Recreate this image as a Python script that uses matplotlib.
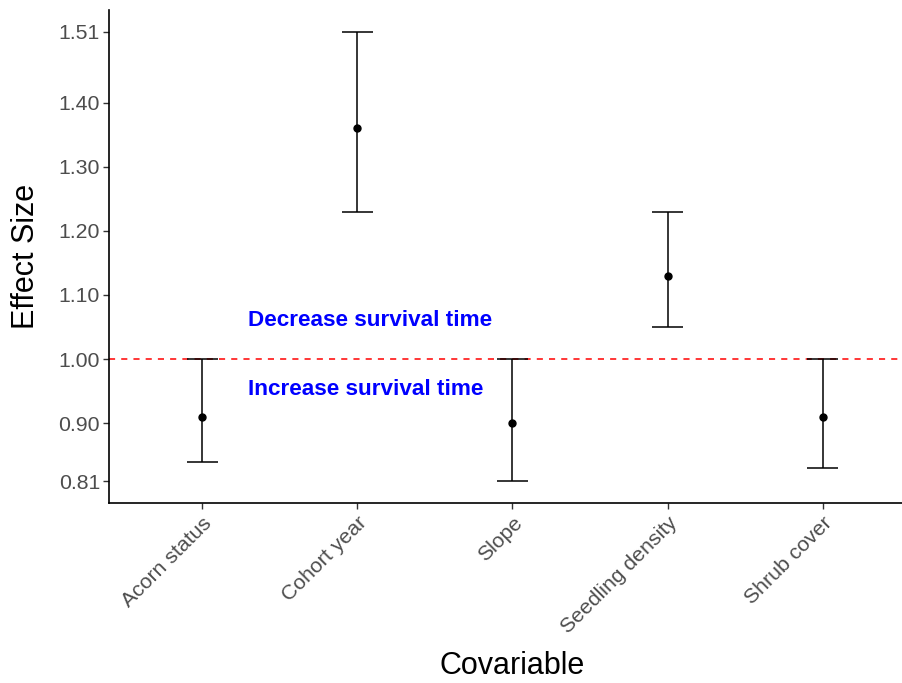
import numpy as np
import matplotlib.pyplot as plt

plt.rcParams['font.family'] = ['Liberation Sans', 'DejaVu Sans']

# Effect sizes with confidence intervals per covariable
covariables = ['Acorn status', 'Cohort year', 'Slope', 'Seedling density', 'Shrub cover']
effect = [0.91, 1.36, 0.90, 1.13, 0.91]
lower = [0.84, 1.23, 0.81, 1.05, 0.83]
upper = [1.00, 1.51, 1.00, 1.23, 1.00]
yticks = [0.81, 0.90, 1.00, 1.10, 1.20, 1.30, 1.40, 1.51]

fig = plt.figure(figsize=(9.03, 6.83), dpi=100)
ax = fig.add_axes([0.1207, 0.2635, 0.8937, 0.7219])

x = np.arange(len(covariables))
ax.axhline(1.0, color='red', linestyle=(0, (4, 4)), linewidth=1.1, zorder=1)
ax.vlines(x, lower, upper, color='black', linewidth=1.1, zorder=2)
ax.hlines(lower, x - 0.1, x + 0.1, color='black', linewidth=1.1, zorder=2)
ax.hlines(upper, x - 0.1, x + 0.1, color='black', linewidth=1.1, zorder=2)
ax.plot(x, effect, 'o', color='black', markersize=5, zorder=3)

ax.text(1.08, 1.061, 'Decrease survival time', color='blue', fontsize=16.2,
        fontweight='bold', ha='center', va='center')
ax.text(1.055, 0.952, 'Increase survival time', color='blue', fontsize=16.2,
        fontweight='bold', ha='center', va='center')

ax.set_xlim(-0.6, 4.6)
ax.set_ylim(0.7757, 1.5443)
ax.set_xticks(x)
ax.set_xticklabels(covariables, rotation=45, ha='right', rotation_mode='anchor',
                   fontsize=15.3, color='#4D4D4D')
ax.set_yticks(yticks)
ax.set_yticklabels([f'{v:.2f}' for v in yticks], fontsize=15.3, color='#4D4D4D')
ax.tick_params(length=4, width=1, color='#333333')
ax.tick_params(axis='y', pad=2.5)

for s in ['top', 'right']:
    ax.spines[s].set_visible(False)
for s in ['left', 'bottom']:
    ax.spines[s].set_linewidth(1.2)

ax.set_xlabel('Covariable', fontsize=22)
ax.set_ylabel('Effect Size', fontsize=22)
ax.yaxis.set_label_coords(-0.084, 0.5)
ax.xaxis.set_label_coords(0.5, -0.30)

fig.savefig('out.png', dpi=100)
